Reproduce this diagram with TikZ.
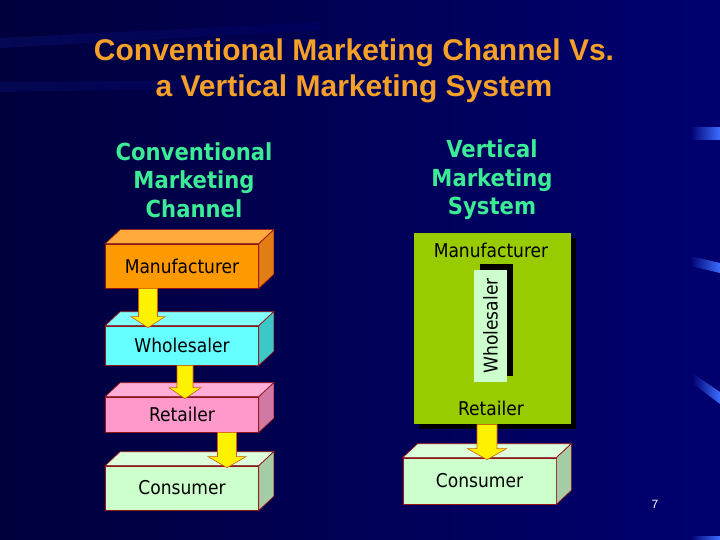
\documentclass[tikz,border=0pt]{standalone}
\usepackage{fontspec}
\setmainfont{Liberation Sans}
\newfontfamily\tah{DejaVu Sans Condensed}
\usetikzlibrary{calc,shadows}
\definecolor{bgdark}{RGB}{0,0,60}
\definecolor{bgmid}{RGB}{0,0,112}
\definecolor{bgband}{RGB}{15,25,130}
\definecolor{streak}{RGB}{60,110,255}
\definecolor{titlecol}{RGB}{245,160,40}
\definecolor{subcol}{RGB}{60,235,150}
\definecolor{edge}{RGB}{150,20,20}
\definecolor{orfront}{RGB}{255,153,0}
\definecolor{ortop}{RGB}{255,170,60}
\definecolor{orside}{RGB}{225,125,20}
\definecolor{cyfront}{RGB}{102,255,255}
\definecolor{cytop}{RGB}{130,255,255}
\definecolor{cyside}{RGB}{60,200,200}
\definecolor{pkfront}{RGB}{255,153,204}
\definecolor{pktop}{RGB}{255,175,215}
\definecolor{pkside}{RGB}{210,120,165}
\definecolor{gnfront}{RGB}{204,255,204}
\definecolor{gntop}{RGB}{220,255,220}
\definecolor{gnside}{RGB}{165,205,165}
\definecolor{vgreen}{RGB}{153,204,0}
\definecolor{arrowedge}{RGB}{210,90,20}
\newcommand\depthfaces[3]{%
  \draw[edge, line width=0.7pt, fill=#2] (#1.north west) -- ++(15,-14) -- ($(#1.north east)+(15,-14)$) -- (#1.north east) -- cycle;
  \draw[edge, line width=0.7pt, fill=#3] (#1.north east) -- ++(15,-14) -- ($(#1.south east)+(15,-14)$) -- (#1.south east) -- cycle;}
\newcommand\blockarr[5]{%
  \draw[fill=yellow, draw=arrowedge, line width=0.6pt, line join=miter] let \p1=(#1.south), \p2=(#2.north) in
  (#3pt-#4pt,\y1) -- (#3pt+#4pt,\y1) -- (#3pt+#4pt,\y2+9pt) -- (#3pt+#5pt,\y2+9pt) -- (#3pt,\y2-2pt)
  -- (#3pt-#5pt,\y2+9pt) -- (#3pt-#4pt,\y2+9pt) -- cycle;}
\tikzset{
  frontbox/.style={draw=edge, line width=0.7pt, minimum width=153pt, inner sep=0pt,
    font=\tah\fontsize{19}{21}\selectfont, text=black},
  subhead/.style={align=center, text=subcol, font=\tah\bfseries\fontsize{23.5}{28.5}\selectfont},
  vlabel/.style={text=black, font=\tah\fontsize{19}{21}\selectfont, inner sep=0pt}
}
\begin{document}
\begin{tikzpicture}[x=1pt,y=-1pt]
\useasboundingbox (0,0) rectangle (720,540);
% background
\shade[left color=bgdark, right color=bgmid] (0,0) rectangle (720,540);
\shade[left color=bgband, right color=bgmid, opacity=0.35] (0,38) -- (320,22) -- (320,30) -- (0,48) -- cycle;
\shade[left color=bgband, right color=bgmid, opacity=0.3] (0,82) -- (260,80) -- (260,88) -- (0,92) -- cycle;
\shade[left color=bgmid, right color=streak] (690,128) rectangle (720,140);
\shade[left color=bgmid, right color=streak] (690,256) -- (720,263) -- (720,273) -- (690,266) -- cycle;
\shade[left color=bgmid, right color=streak] (692,373) -- (720,392) -- (720,404) -- (692,383) -- cycle;
\shade[left color=bgmid, right color=streak] (690,536) rectangle (720,540);
% title
\node[text=titlecol, align=center, font=\bfseries\fontsize{30}{36}\selectfont] (title) at (354,71)
  {Conventional Marketing Channel Vs.\\a Vertical Marketing System};
% subheadings
\node[subhead] (hconv) at (194,180) {Conventional\\Marketing\\Channel};
\node[subhead] (hvert) at (492,180) {Vertical\\Marketing\\System};
% left: conventional channel
\node[frontbox, fill=orfront, minimum height=44pt] (man) at (182,266) {Manufacturer};
\depthfaces{man}{ortop}{orside}
\node[frontbox, fill=cyfront, minimum height=39pt] (who) at (182,345.5) {Wholesaler};
\depthfaces{who}{cytop}{cyside}
\node[frontbox, fill=pkfront, minimum height=35pt] (ret) at (182,414.5) {Retailer};
\depthfaces{ret}{pktop}{pkside}
\node[frontbox, fill=gnfront, minimum height=44pt] (con) at (182,488) {Consumer};
\depthfaces{con}{gntop}{gnside}
\blockarr{man}{who}{148}{9.5}{17}
\blockarr{who}{ret}{185}{8}{16}
\blockarr{ret}{con}{227}{9.5}{19}
% right: vertical marketing system
\node[fill=vgreen, minimum width=157pt, minimum height=191pt, inner sep=0pt, anchor=north west,
  drop shadow={shadow xshift=5pt, shadow yshift=-5pt, fill=black, opacity=1}] (vms) at (414,233) {};
\node[vlabel] (vman) at (491,250) {Manufacturer};
\node[fill=gnfront, minimum width=112pt, minimum height=33pt, inner sep=0pt, rotate=90,
  drop shadow={shadow xshift=6pt, shadow yshift=6pt, fill=black, opacity=1},
  font=\tah\fontsize{19}{21}\selectfont] (vwho) at (490.5,326) {Wholesaler};
\node[vlabel] (vret) at (491,408) {Retailer};
\node[frontbox, fill=gnfront, minimum height=46pt] (vcon) at (479.5,481) {Consumer};
\depthfaces{vcon}{gntop}{gnside}
\blockarr{vms}{vcon}{487}{10}{19.5}
% page number
\node[text=white, font=\fontsize{12}{14}\selectfont] (pnum) at (655,504) {7};
\end{tikzpicture}
\end{document}
